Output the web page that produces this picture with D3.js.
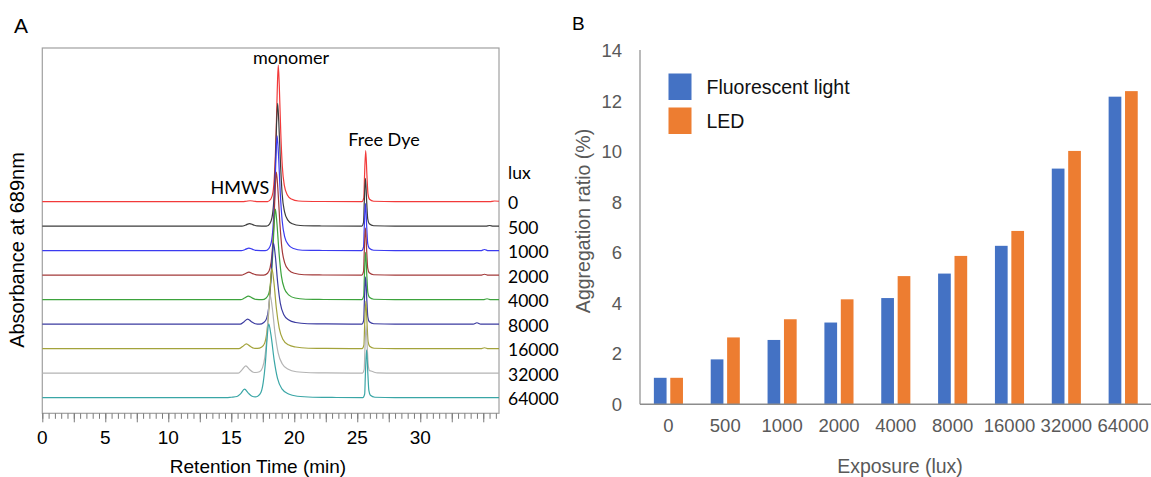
<!DOCTYPE html>
<html>
<head>
<meta charset="utf-8">
<script src="https://cdn.jsdelivr.net/npm/d3@7"></script>
<style>
  body { margin: 0; background: #fff; }
  svg { display: block; }
</style>
</head>
<body>
<div class="holder"></div>
<script>
"use strict";

// ---------- panel A data: chromatograms, [retention time (min), absorbance] ----------
const luxLabels = ["0", "500", "1000", "2000", "4000", "8000", "16000", "32000", "64000"];

const trace0 = [[0,0],[15.9,0],[16.2,0.2],[16.5,0.4],[16.8,0.2],[17.1,0],[17.88,0],[18.14,1.1],[18.31,3.9],[18.43,11.2],[18.56,28.1],[18.65,46.0],[18.73,56.1],[18.81,47.7],[18.93,28.1],[19.05,14.6],[19.21,6.7],[19.45,2.8],[19.77,1.1],[20.33,0.3],[22,0.1],[25.37,0],[25.52,1.7],[25.57,9.5],[25.67,21.0],[25.77,10.5],[25.85,3.2],[25.97,1.0],[26.3,0.2],[28,0],[35.5,0],[35.9,0.3],[36.25,0.2]];
const trace500 = [[0,0],[15.85,0],[16.15,0.5],[16.45,1.1],[16.75,0.55],[17.05,0.1],[17.78,0],[18.05,1.0],[18.23,3.5],[18.37,10.1],[18.5,25.3],[18.59,41.4],[18.68,50.5],[18.77,42.9],[18.91,25.3],[19.04,13.1],[19.22,6.1],[19.49,2.5],[19.85,1.0],[20.48,0.3],[22,0.1],[25.35,0],[25.5,1.6],[25.55,8.9],[25.65,19.7],[25.75,9.9],[25.83,3.0],[25.95,1.0],[26.3,0.2],[28,0],[35.2,0],[35.5,0.3],[35.8,0],[36.25,0]];
const trace1000 = [[0,0],[15.8,0],[16.1,0.5],[16.4,1.1],[16.7,0.55],[17.0,0.1],[17.69,0],[17.98,0.9],[18.17,3.3],[18.31,9.4],[18.45,23.6],[18.55,38.7],[18.64,47.2],[18.74,40.1],[18.89,23.6],[19.04,12.3],[19.24,5.7],[19.54,2.4],[19.94,0.9],[20.64,0.2],[22,0.1],[25.35,0],[25.5,1.6],[25.55,8.8],[25.65,19.5],[25.75,9.8],[25.83,2.9],[25.95,1.0],[26.3,0.2],[28,0],[34.8,0],[35.1,0.5],[35.4,0],[36.25,0]];
const trace2000 = [[0,0],[15.8,0],[16.1,0.6],[16.4,1.3],[16.7,0.65],[17.0,0.13],[17.58,0],[17.88,0.8],[18.08,3.0],[18.23,8.5],[18.38,21.2],[18.48,34.7],[18.58,42.3],[18.69,36.0],[18.86,21.2],[19.02,11.0],[19.24,5.1],[19.57,2.1],[20.01,0.8],[20.78,0.2],[22,0.1],[25.35,0],[25.5,1.6],[25.55,8.8],[25.65,19.5],[25.75,9.8],[25.83,2.9],[25.95,1.0],[26.3,0.2],[28,0],[34.8,0],[35.1,0.4],[35.4,0],[36.25,0]];
const trace4000 = [[0,0],[15.75,0],[16.05,0.7],[16.35,1.5],[16.65,0.75],[16.95,0.15],[17.45,0],[17.77,0.7],[17.98,2.6],[18.13,7.4],[18.29,18.6],[18.4,30.5],[18.5,37.2],[18.62,31.6],[18.8,18.6],[18.98,9.7],[19.22,4.5],[19.58,1.9],[20.06,0.7],[20.9,0.2],[22,0.1],[25.36,0],[25.51,1.6],[25.56,8.8],[25.66,19.5],[25.76,9.8],[25.84,2.9],[25.96,1.0],[26.31,0.2],[28,0],[35.0,0],[35.3,0.4],[35.6,0],[36.25,0]];
const trace8000 = [[0,0],[15.7,0],[16.0,0.95],[16.3,2.1],[16.6,1.05],[16.9,0.2],[17.25,0],[17.58,0.7],[17.8,2.3],[17.97,6.7],[18.13,16.7],[18.24,27.3],[18.35,33.3],[18.49,28.3],[18.69,16.7],[18.89,8.7],[19.16,4.0],[19.57,1.7],[20.11,0.7],[21.05,0.2],[22.5,0.1],[25.36,0],[25.51,1.6],[25.56,8.8],[25.66,19.5],[25.76,9.8],[25.84,2.9],[25.96,1.0],[26.31,0.2],[28,0],[34.2,0],[34.5,0.6],[34.8,0],[36.25,0]];
const trace16000 = [[0,0],[15.6,0],[15.9,0.9],[16.2,2.0],[16.5,1.0],[16.8,0.2],[17.07,0.1],[17.42,0.7],[17.65,2.3],[17.82,6.6],[17.99,16.5],[18.11,27.0],[18.22,32.9],[18.37,28.0],[18.58,16.5],[18.8,8.6],[19.09,3.9],[19.53,1.6],[20.11,0.7],[21.12,0.2],[22.5,0.1],[25.38,0],[25.53,1.6],[25.58,8.8],[25.68,19.6],[25.78,9.8],[25.86,2.9],[25.98,1.0],[26.33,0.2],[28,0],[34.8,0],[35.1,0.4],[35.4,0],[36.25,0]];
const trace32000 = [[0,0],[15.55,0],[15.85,1.35],[16.15,3.0],[16.45,1.5],[16.75,0.4],[16.95,0.3],[17.24,0.6],[17.48,2.3],[17.66,6.4],[17.84,16.1],[17.96,26.4],[18.08,32.2],[18.24,27.4],[18.48,16.1],[18.72,8.4],[19.04,3.9],[19.52,1.6],[20.16,0.6],[21.28,0.2],[22.5,0.1],[25.4,0],[25.55,1.6],[25.6,8.8],[25.7,19.6],[25.8,9.8],[25.88,2.9],[25.98,1.0],[26.1,0.9],[26.3,0.5],[26.6,0.1],[28,0],[36.25,0]];
const trace64000 = [[0,0],[14.6,0],[15.0,0.2],[15.45,0.5],[15.75,1.7],[16.05,3.5],[16.35,1.9],[16.65,0.6],[16.9,0.35],[17.1,0.6],[17.35,2.1],[17.53,6.1],[17.72,15.2],[17.85,24.8],[17.97,30.3],[18.15,25.8],[18.41,15.2],[18.67,7.9],[19.02,3.6],[19.55,1.5],[20.25,0.6],[21.47,0.2],[23,0.1],[25.44,0],[25.59,1.6],[25.64,8.9],[25.74,19.7],[25.84,9.9],[25.92,3.0],[26.04,1.0],[26.4,0.2],[28,0],[36.25,0]];

const traces = [trace0, trace500, trace1000, trace2000, trace4000, trace8000, trace16000, trace32000, trace64000];
const timeLabels = [0, 5, 10, 15, 20, 25, 30];

// ---------- panel B data ----------
const exposures = ["0", "500", "1000", "2000", "4000", "8000", "16000", "32000", "64000"];
const seriesNames = ["Fluorescent light", "LED"];
const fluorescent = [1.05, 1.78, 2.55, 3.24, 4.21, 5.18, 6.28, 9.34, 12.19];
const led = [1.05, 2.65, 3.37, 4.16, 5.08, 5.88, 6.87, 10.04, 12.41];
const ratioTicks = [0, 2, 4, 6, 8, 10, 12, 14];

// styles
const traceColors = ["#f23a3a", "#3c3c3c", "#3b3bf0", "#a33a3a", "#3da33d", "#3b3ba0", "#a3a33b", "#b4b4b4", "#3aa6a6"];
const barColors = ["#4472c4", "#ed7d31"];
const arial = "'Liberation Sans', Arial, sans-serif";
const calibri = "Lato, 'Open Sans', sans-serif";

const w = 1151;
const h = 477;
const svg = d3.select(".holder").append("svg").attr("width", w).attr("height", h);

// ================= panel A =================
const xA = d3.scaleLinear().domain([0, 36.25]).range([42.3, 499]);
const yA = d3.scaleLinear().domain([0, 150]).range([413.3, 48]);
const baseOffset = 6.4;
const offsetStep = 10.06;
const traceOffset = (i) => baseOffset + offsetStep * (traces.length - 1 - i);

const gA = svg.append("g");

gA.append("rect")
  .attr("x", xA(0))
  .attr("y", yA(150))
  .attr("width", xA(36.25) - xA(0))
  .attr("height", yA(0) - yA(150))
  .attr("fill", "none")
  .attr("stroke", "#a0a0a0")
  .attr("stroke-width", 1.2);

traces.forEach((tr, i) => {
  const off = traceOffset(i);
  const line = d3.line()
    .x((d) => xA(d[0]))
    .y((d) => yA(d[1] + off))
    .curve(d3.curveMonotoneX);
  gA.append("path")
    .datum(tr)
    .attr("d", line)
    .attr("fill", "none")
    .attr("stroke", traceColors[i])
    .attr("stroke-width", 1.2);
});

// x axis ticks: minor every 0.5 min, major every 2.5 min
const minorAxis = d3.axisBottom(xA)
  .tickValues(d3.range(0, 36.01, 0.5))
  .tickSize(5.5)
  .tickFormat("");
const majorAxis = d3.axisBottom(xA)
  .tickValues(d3.range(0, 36.01, 2.5))
  .tickSize(9)
  .tickFormat("");
[minorAxis, majorAxis].forEach((ax) => {
  const g = gA.append("g").attr("transform", "translate(0," + yA(0) + ")").call(ax);
  g.select(".domain").remove();
  g.selectAll(".tick line").attr("stroke", "#7a7a7a");
});

gA.selectAll(".time-label")
  .data(timeLabels)
  .enter()
  .append("text")
  .attr("class", "time-label")
  .attr("x", (d) => xA(d))
  .attr("y", 444)
  .attr("text-anchor", "middle")
  .style("font-family", arial)
  .style("font-size", "19px")
  .attr("fill", "#000")
  .text((d) => d);

gA.append("text")
  .attr("x", 258)
  .attr("y", 473)
  .attr("text-anchor", "middle")
  .style("font-family", arial)
  .style("font-size", "19px")
  .text("Retention Time (min)");

gA.append("text")
  .attr("transform", "translate(24,250) rotate(-90)")
  .attr("text-anchor", "middle")
  .style("font-family", arial)
  .style("font-size", "20px")
  .text("Absorbance at 689nm");

gA.append("text")
  .attr("x", 14)
  .attr("y", 33)
  .style("font-family", arial)
  .style("font-size", "21px")
  .text("A");

// lux labels at the right of each trace
gA.append("text")
  .attr("x", 508)
  .attr("y", 173)
  .attr("dy", "0.35em")
  .style("font-family", calibri)
  .style("font-size", "17.5px")
  .text("lux");
gA.selectAll(".lux-label")
  .data(luxLabels)
  .enter()
  .append("text")
  .attr("class", "lux-label")
  .attr("x", 508)
  .attr("y", (d, i) => yA(traceOffset(i)) + 1.5)
  .attr("dy", "0.35em")
  .style("font-family", calibri)
  .style("font-size", "17.5px")
  .text((d) => d);

// peak annotations
const notes = [
  { text: "monomer", x: 291, y: 58 },
  { text: "Free Dye", x: 384, y: 140 },
  { text: "HMWS", x: 240, y: 187.5 }
];
gA.selectAll(".note")
  .data(notes)
  .enter()
  .append("text")
  .attr("class", "note")
  .attr("x", (d) => d.x)
  .attr("y", (d) => d.y)
  .attr("dy", "0.35em")
  .attr("text-anchor", "middle")
  .style("font-family", calibri)
  .style("font-size", "18px")
  .text((d) => d.text);

// ================= panel B =================
const xB = d3.scaleBand()
  .domain(exposures)
  .range([640, 1151.6])
  .paddingInner(0.488)
  .paddingOuter(0.244);
const xSub = d3.scaleBand()
  .domain(seriesNames)
  .range([0, xB.bandwidth()])
  .paddingInner(0.2256);
const yB = d3.scaleLinear().domain([0, 14]).range([404.3, 51]);

const gB = svg.append("g");
const tableB = exposures.map((e, i) => ({ exposure: e, values: [fluorescent[i], led[i]] }));

const groups = gB.selectAll(".group")
  .data(tableB)
  .enter()
  .append("g")
  .attr("class", "group")
  .attr("transform", (d) => "translate(" + xB(d.exposure) + ",0)");
groups.selectAll("rect")
  .data((d) => d.values.map((v, k) => ({ series: seriesNames[k], k: k, v: v })))
  .enter()
  .append("rect")
  .attr("x", (d) => xSub(d.series))
  .attr("width", xSub.bandwidth())
  .attr("y", (d) => yB(d.v))
  .attr("height", (d) => yB(0) - yB(d.v))
  .attr("fill", (d) => barColors[d.k]);

// axes lines
gB.append("line")
  .attr("x1", 640).attr("x2", 640)
  .attr("y1", yB(14) - 1).attr("y2", yB(0))
  .attr("stroke", "#8c8c8c").attr("stroke-width", 1.2);
gB.append("line")
  .attr("x1", 640).attr("x2", 1151)
  .attr("y1", yB(0)).attr("y2", yB(0))
  .attr("stroke", "#8c8c8c").attr("stroke-width", 1.5);

const yAxisB = d3.axisLeft(yB).tickValues(ratioTicks).tickSize(0).tickPadding(18);
const gy = gB.append("g").attr("transform", "translate(640,0)").call(yAxisB);
gy.select(".domain").remove();
gy.selectAll("text")
  .style("font-family", arial)
  .style("font-size", "18.5px")
  .attr("fill", "#595959");

const xAxisB = d3.axisBottom(xB).tickSize(0).tickPadding(15);
const gx = gB.append("g").attr("transform", "translate(0," + yB(0) + ")").call(xAxisB);
gx.select(".domain").remove();
gx.selectAll("text")
  .style("font-family", arial)
  .style("font-size", "18.5px")
  .attr("fill", "#595959");

gB.append("text")
  .attr("x", 900)
  .attr("y", 473)
  .attr("text-anchor", "middle")
  .style("font-family", arial)
  .style("font-size", "19.5px")
  .attr("fill", "#595959")
  .text("Exposure (lux)");

gB.append("text")
  .attr("transform", "translate(590,221) rotate(-90)")
  .attr("text-anchor", "middle")
  .style("font-family", arial)
  .style("font-size", "19.5px")
  .attr("fill", "#595959")
  .text("Aggregation ratio (%)");

gB.append("text")
  .attr("x", 572)
  .attr("y", 30)
  .style("font-family", arial)
  .style("font-size", "19px")
  .text("B");

// legend
const legend = gB.selectAll(".legend")
  .data(seriesNames)
  .enter()
  .append("g")
  .attr("class", "legend")
  .attr("transform", (d, i) => "translate(668.5," + (73.5 + i * 34) + ")");
legend.append("rect")
  .attr("width", 23)
  .attr("height", 26.5)
  .attr("fill", (d, i) => barColors[i]);
legend.append("text")
  .attr("x", 38)
  .attr("y", 13.5)
  .attr("dy", "0.35em")
  .style("font-family", arial)
  .style("font-size", "19.5px")
  .attr("fill", "#111")
  .text((d) => d);
</script>
</body>
</html>
